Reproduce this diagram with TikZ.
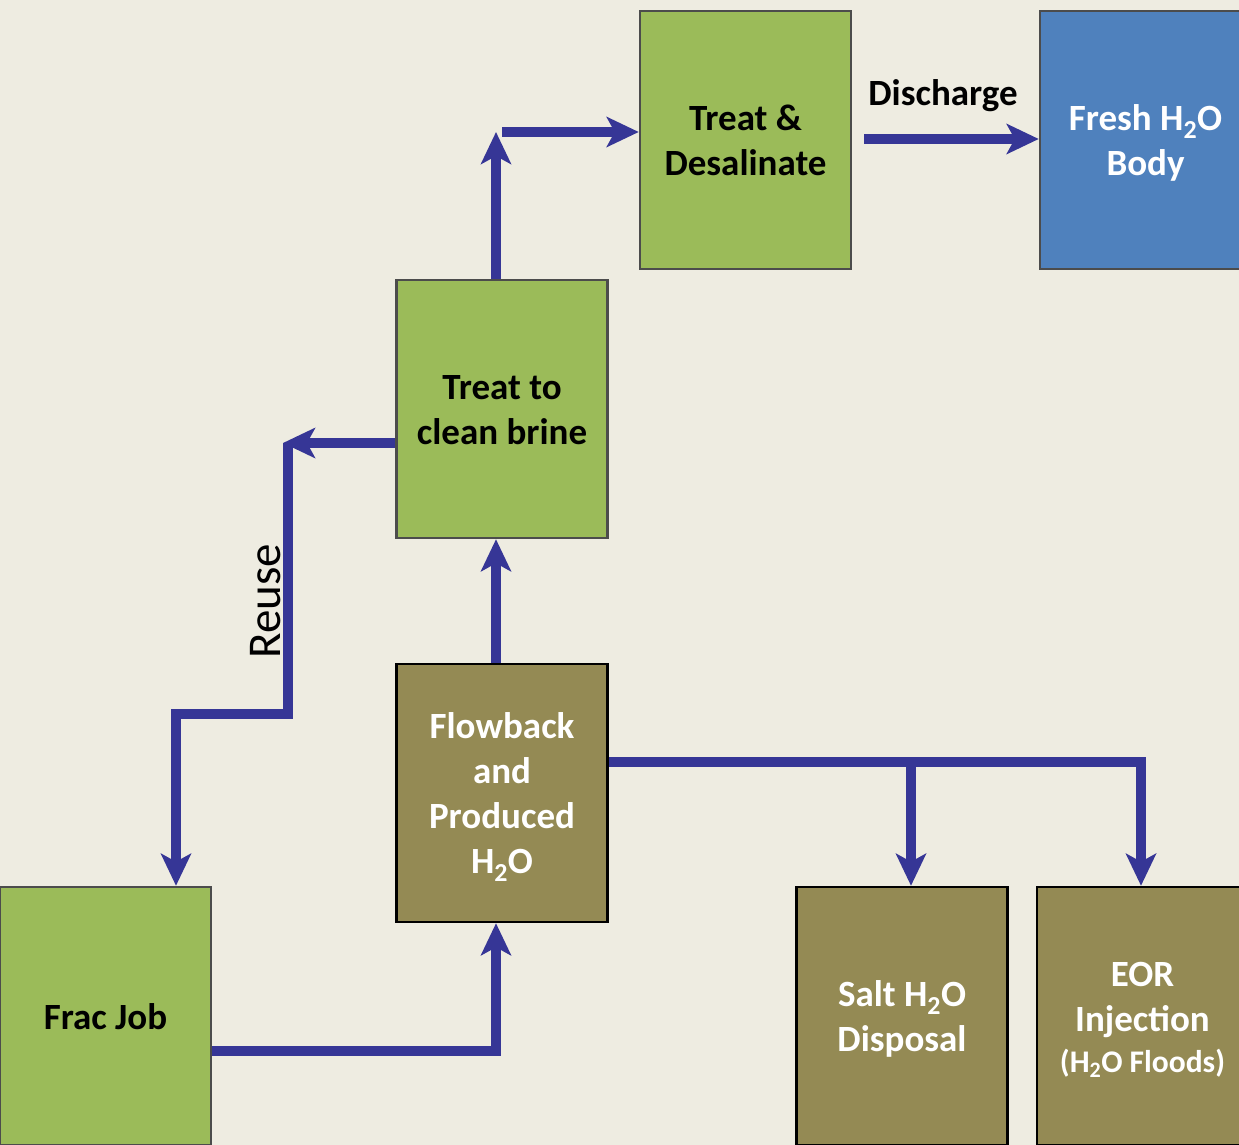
\documentclass[tikz,border=0pt]{standalone}
\usepackage{fontspec}
\setmainfont{Carlito}
\usetikzlibrary{arrows.meta}
\definecolor{bg}{RGB}{238,236,225}
\definecolor{grn}{RGB}{155,187,89}
\definecolor{olv}{RGB}{148,138,84}
\definecolor{blu}{RGB}{79,129,189}
\definecolor{arrc}{RGB}{54,54,150}
\newcommand{\boxtext}[1]{\raisebox{-4pt}[\height][\depth]{\begin{tabular}{@{}c@{}}#1\end{tabular}}}
\begin{document}
\begin{tikzpicture}[x=1pt,y=-1pt,
  box/.style={rectangle, minimum width=211pt, minimum height=258pt, line width=2.5pt,
    inner sep=0pt, font=\fontsize{37}{45}\selectfont\bfseries},
  gbox/.style={box, fill=grn, draw=black!70, text=black},
  obox/.style={box, fill=olv, draw=black, text=white},
  bbox/.style={box, fill=blu, draw=black!70, text=white},
  flow/.style={draw=arrc, line width=10pt, line join=miter,
    -{Stealth[length=32pt, width=30pt, inset=8pt]}},
  lbl/.style={font=\fontsize{37}{45}\selectfont\bfseries, inner sep=0pt}]
\useasboundingbox (0,0) rectangle (1239,1145);
\clip (0,0) rectangle (1239,1145);
\fill[bg] (0,0) rectangle (1239,1145);

\node[gbox] (desal) at (745.5,140) {\boxtext{Treat \&\\Desalinate}};
\node[bbox] (fresh) at (1145.5,140) {\boxtext{Fresh H\textsubscript{2}O\\Body}};
\node[gbox] (brine) at (502,409) {\boxtext{Treat to\\clean brine}};
\node[obox] (flowb) at (502,793) {\boxtext{Flowback\\and\\Produced\\H\textsubscript{2}O}};
\node[gbox] (frac) at (105.5,1016) {\boxtext{Frac Job}};
\node[obox] (salt) at (902,1016) {\boxtext{Salt H\textsubscript{2}O\\Disposal}};
\node[obox] (eor) at (1142.5,1016) {\boxtext{EOR\\Injection\\[-4pt]{\fontsize{31.5}{36}\selectfont (H\textsubscript{2}O Floods)}}};

\node[lbl] (dlabel) at (943,96) {Discharge};
\node[rotate=90, inner sep=0pt, font=\fontsize{47}{52}\selectfont] (reuse) at (266,601) {Reuse};

\coordinate (c1) at (496,132);
\coordinate (c1s) at (502,132);
\draw[flow] (brine.north -| c1) -- (c1);
\draw[flow] (c1s) -- (c1s -| desal.west);

\coordinate (d0) at (864,139);
\draw[flow] (d0) -- (d0 -| fresh.west);

\coordinate (r1) at (283,443);
\coordinate (r2) at (288,443);
\coordinate (r3) at (288,714);
\coordinate (r4) at (176,714);
\draw[flow] (brine.west |- r1) -- (r1);
\draw[flow] (r2) -- (r3) -- (r4) -- (r4 |- frac.north);

\draw[flow] (flowb.north -| c1) -- (brine.south -| c1);

\coordinate (f1) at (496,1051);
\draw[flow] (frac.east |- f1) -- (f1) -- (flowb.south -| f1);

\coordinate (b1) at (1141,762);
\coordinate (b2) at (911,762);
\draw[flow] (flowb.east |- b1) -- (b1) -- (b1 |- eor.north);
\draw[flow] (b2) -- (b2 |- salt.north);
\end{tikzpicture}
\end{document}
